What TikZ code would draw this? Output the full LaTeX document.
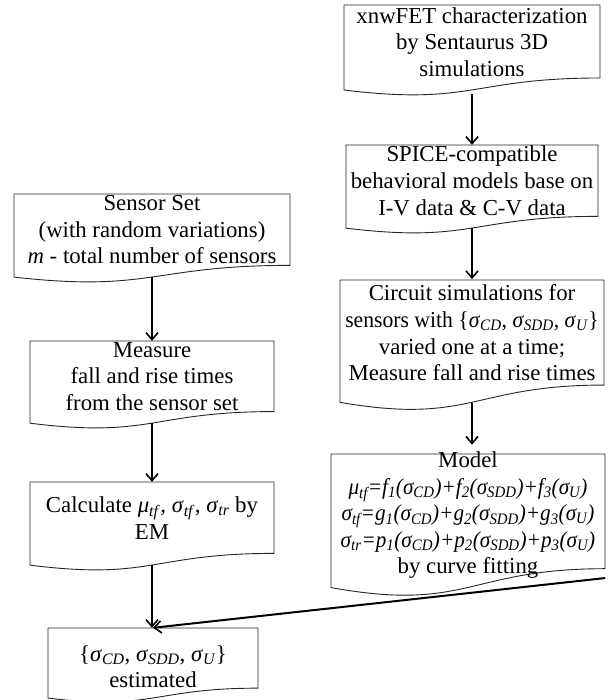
\documentclass[tikz,border=0pt]{standalone}
\usepackage{fontspec}
\setmainfont{Liberation Serif}
\usepackage{graphicx}
\usetikzlibrary{arrows.meta,calc}
\newcommand\sg[1]{\textit{σ}\textsubscript{\textit{#1}}}
\newcommand\mug[1]{\textit{μ}\textsubscript{\textit{#1}}}
\newcommand\shiftdown[2]{\raisebox{-#1pt}[\height][\depth]{\begin{tabular}{@{}c@{}}#2\end{tabular}}}
\newcommand\narrow[2]{\scalebox{#1}[1]{#2}}
% #1 options, #2 name, #3 left x, #4 top y, #5 right x, #6 full height, #7 text
\newcommand\docbox[7][]{%
  \pgfmathsetmacro\dbk{0.802*#6}%
  \pgfmathsetmacro\dbcx{(#3+#5)/2}%
  \pgfmathsetmacro\dbcy{#4+\dbk/2}%
  \pgfmathsetmacro\dbw{#5-#3}%
  \pgfmathsetmacro\dbL{#4+0.934*#6}%
  \pgfmathsetmacro\dbC{#4+1.1075*#6}%
  \pgfmathsetmacro\dbR{#4+\dbk}%
  \draw[docline] (#3,#4) -- (#5,#4) -- (#5,\dbR) .. controls (\dbcx,\dbR) and (\dbcx,\dbC) .. (#3,\dbL) -- cycle;
  \node[docbox, minimum width=\dbw, minimum height=\dbk, #1] (#2) at (\dbcx,\dbcy) {#7};
}
\begin{document}
\begin{tikzpicture}[x=1pt,y=-1pt,
  docbox/.style={draw=none, inner sep=0pt, align=center, font=\fontsize{22.8}{26.6}\selectfont},
  docline/.style={draw=black!85, line width=0.9pt, fill=white},
  flow/.style={-{Straight Barb[length=7pt,width=12pt,line width=1.6pt]}, line width=2pt, black}]
\useasboundingbox (0,0) rectangle (607,700);
\fill[white] (0,0) rectangle (607,700);

% right column
\docbox{b1}{344}{5}{600}{91}{\shiftdown{3}{xnwFET characterization\\by Sentaurus 3D\\simulations}}
\docbox{b2}{346}{145}{598}{89}{SPICE-compatible\\behavioral models base on\\I-V data \& C-V data}
\docbox{b3}{340}{280}{604}{131}{\shiftdown{3}{Circuit simulations for\\\narrow{0.95}{sensors with \{\sg{CD}, \sg{SDD}, \sg{U}\}}\\varied one at a time;\\Measure fall and rise times}}
\docbox{b4}{331}{454}{605}{143}{\shiftdown{4}{Model\\
  \narrow{0.93}{\textit{\mug{tf}=f\textsubscript{1}(\sg{CD})+f\textsubscript{2}(\sg{SDD})+f\textsubscript{3}(\sg{U})}}\\
  \narrow{0.93}{\textit{\sg{tf}=g\textsubscript{1}(\sg{CD})+g\textsubscript{2}(\sg{SDD})+g\textsubscript{3}(\sg{U})}}\\
  \narrow{0.93}{\textit{\sg{tr}=p\textsubscript{1}(\sg{CD})+p\textsubscript{2}(\sg{SDD})+p\textsubscript{3}(\sg{U})}}\\
  by curve fitting}}

% left column
\docbox{b5}{14}{194}{290}{89}{Sensor Set\\(with random variations)\\\textit{m} - total number of sensors}
\docbox{b6}{30}{341}{274}{88}{Measure\\fall and rise times\\from the sensor set}
\docbox{b7}{30}{482}{274}{89}{\shiftdown{3}{Calculate \mug{tf}\textit{,} \sg{tf}\textit{,} \sg{tr} by\\EM}}
\docbox{b8}{48}{628}{258}{75}{\shiftdown{11}{\{\sg{CD}, \sg{SDD}, \sg{U}\}\\estimated}}

% connectors
\draw[flow] ([yshift=-12]b1.south) -- (b1.south |- b2.north);
\draw[flow] ([yshift=-11.7]b2.south) -- (b2.south |- b3.north);
\draw[flow] ([yshift=-17.2]b3.south) -- (b3.south |- b4.north);
\draw[flow] ([yshift=-11.7]b5.south) -- (b5.south |- b6.north);
\draw[flow] ([yshift=-11.5]b6.south) -- (b6.south |- b7.north);
\draw[flow] ([yshift=-11.7]b7.south) -- (b7.south |- b8.north);
\draw[flow] (b4.south east) -- (b8.north);
\end{tikzpicture}
\end{document}
